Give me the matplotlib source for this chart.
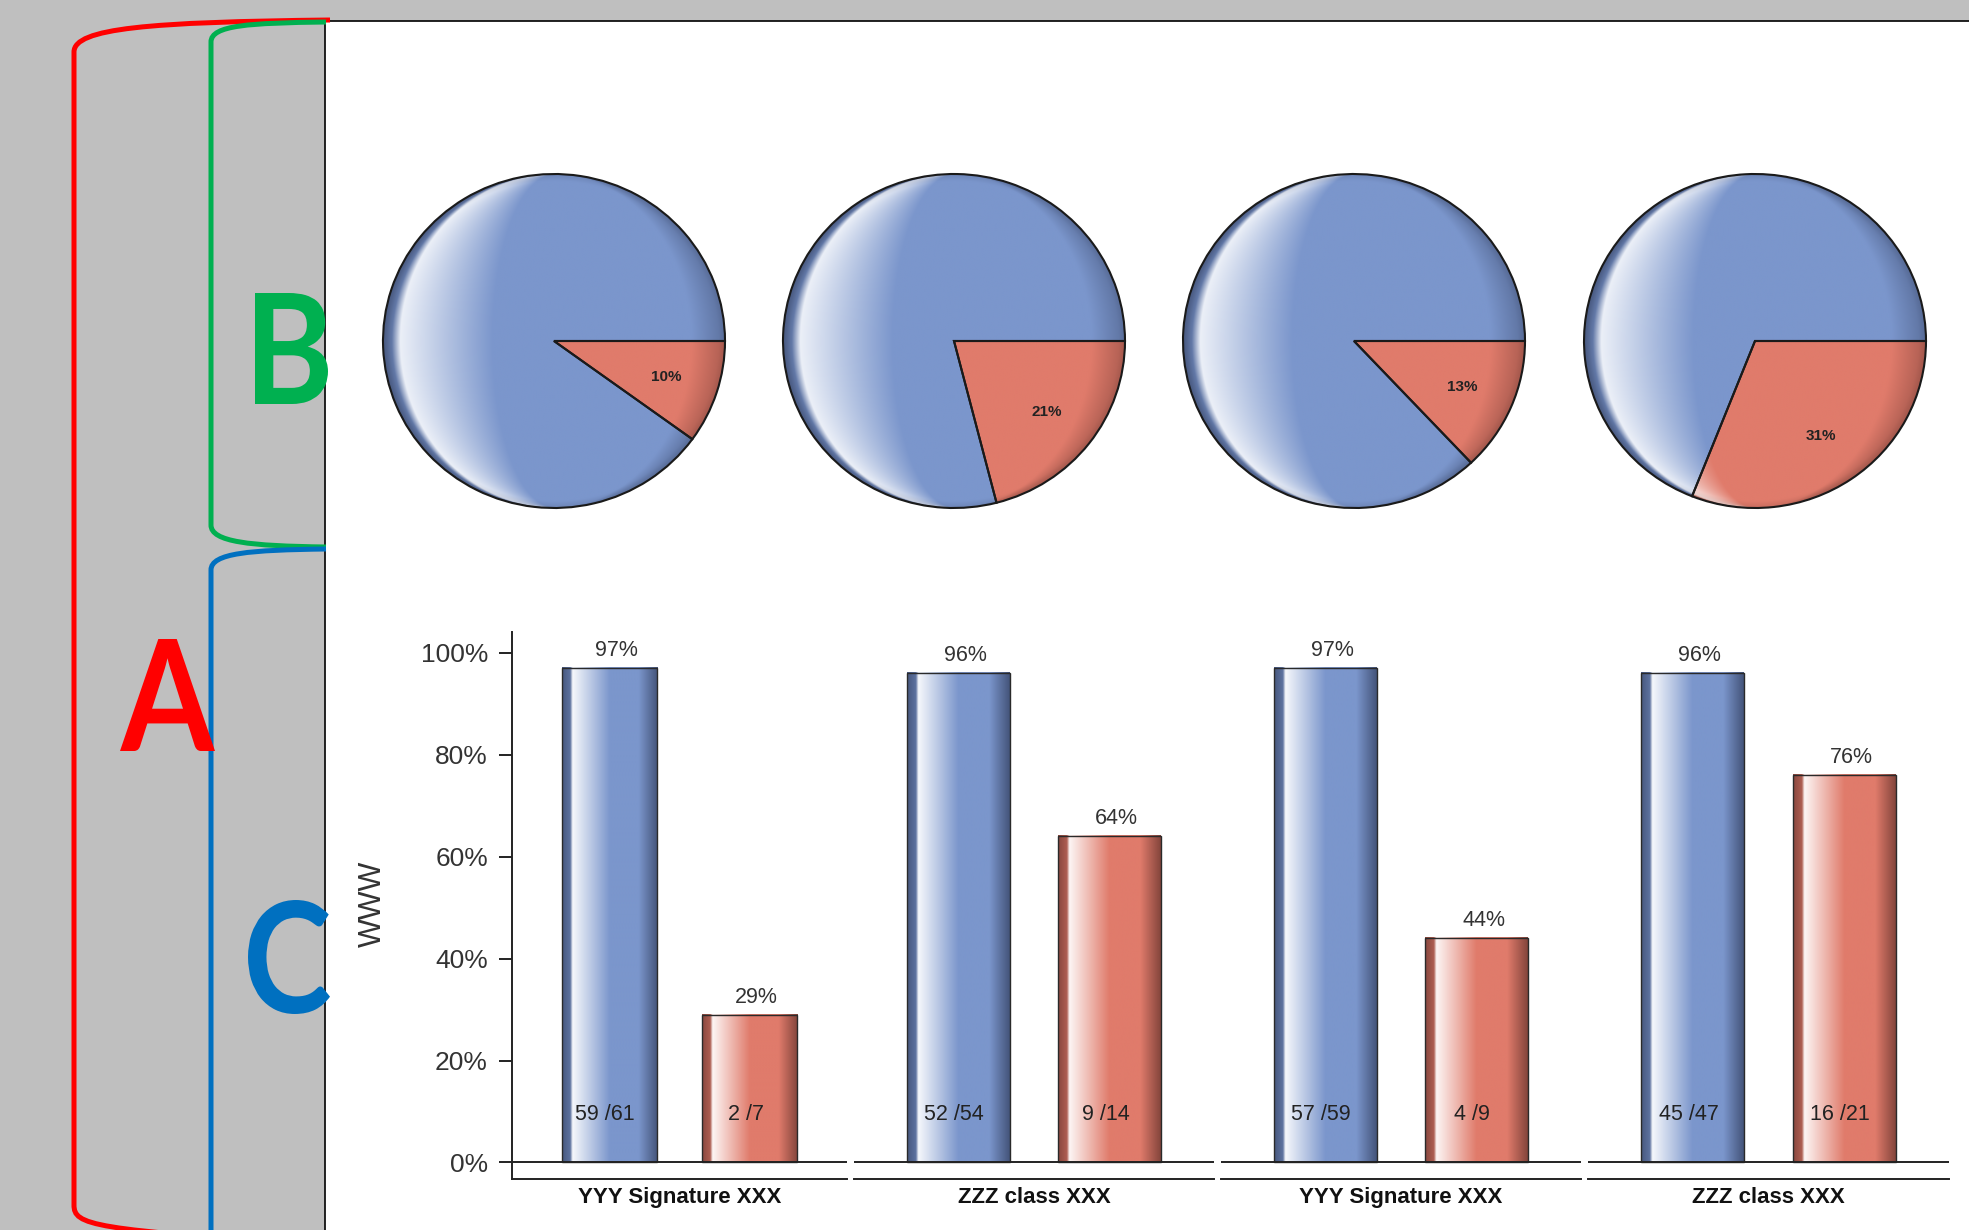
import numpy as np
import matplotlib
matplotlib.use('Agg')
import matplotlib.pyplot as plt
from matplotlib.path import Path
from matplotlib.patches import PathPatch, Rectangle
from matplotlib.colors import to_rgb
from matplotlib.textpath import TextPath
from matplotlib.font_manager import FontProperties
from matplotlib.transforms import Affine2D

plt.rcParams['font.family'] = ['Liberation Sans', 'DejaVu Sans']

W, H = 1969, 1230   # canvas in pixels (dpi 100)

# data
groups = ['YYY Signature XXX', 'ZZZ class XXX', 'YYY Signature XXX', 'ZZZ class XXX']
blue_pct = [97, 96, 97, 96]
red_pct = [29, 64, 44, 76]
blue_counts = ['59 /61', '52 /54', '57 /59', '45 /47']
red_counts = ['2 /7', '9 /14', '4 /9', '16 /21']
pie_pct = [10, 21, 13, 31]
y_ticks = [0, 20, 40, 60, 80, 100]
y_title = 'WWW'

BLUE, BLUE_DARK = '#7b96cc', '#44547a'
RED, RED_DARK = '#e07b6b', '#84453c'


def fig_rect(x0, y0, x1, y1):
    # pixel box (top-left origin) -> figure fraction rect
    return [x0 / W, 1 - y1 / H, (x1 - x0) / W, (y1 - y0) / H]


def mix(c1, c2, t):
    return (1 - t) * np.array(to_rgb(c1)) + t * np.array(to_rgb(c2))


def ramp(u, stops):
    pos = [p for p, _ in stops]
    cols = np.array([c for _, c in stops])
    return np.stack([np.interp(u, pos, cols[:, k]) for k in range(3)], axis=-1)


def bar_stops(base, dark):
    return [(0.0, mix(base, dark, 0.95)),
            (0.085, mix(base, dark, 0.55)),
            (0.11, mix(base, 'white', 0.93)),
            (0.50, mix(base, base, 0)),
            (0.80, mix(base, base, 0)),
            (1.0, mix(base, dark, 1.0))]


def pie_stops(base, dark):
    return [(0.0, mix(base, dark, 0.9)),
            (0.025, mix(base, dark, 0.45)),
            (0.05, mix(base, 'white', 0.85)),
            (0.32, mix(base, base, 0)),
            (0.90, mix(base, base, 0)),
            (1.0, mix(base, dark, 0.55))]


def pie_image(base, dark, n=500):
    xs = np.linspace(-1, 1, n)
    X, Y = np.meshgrid(xs, xs)
    half = np.sqrt(np.clip(1 - Y ** 2, 1e-6, None))
    U = np.clip((X + half) / (2 * half), 0, 1)
    img = ramp(U, pie_stops(base, dark))
    rim = (np.clip((np.hypot(X, Y) - 0.96) / 0.04, 0, 1) * 0.25)[..., None]
    return img * (1 - rim) + np.array(to_rgb(dark)) * rim


def big_letter(ax, s, box, color):
    # glyph outline stretched to fill box = (x0, y0, x1, y1) in pixels
    tp = TextPath((0, 0), s, size=100, prop=FontProperties(family='Lato', weight='bold'))
    bb = tp.get_extents()
    x0, y0, x1, y1 = box
    tr = (Affine2D().translate(-bb.x0, -bb.y0)
          .scale((x1 - x0) / bb.width, -(y1 - y0) / bb.height)
          .translate(x0, y1))
    ax.add_patch(PathPatch(tr.transform_path(tp), facecolor=color,
                           edgecolor='none', zorder=4))


fig = plt.figure(figsize=(W / 100, H / 100), dpi=100)

# ---- background: grey window, white chart area, brackets A/B/C
bg = fig.add_axes([0, 0, 1, 1], zorder=0)
bg.set_xlim(0, W)
bg.set_ylim(H, 0)
bg.axis('off')
bg.add_patch(Rectangle((0, 0), W, H, facecolor='#bfbfbf', edgecolor='none'))
bg.add_patch(Rectangle((325, 21), W - 325, H - 21, facecolor='white', edgecolor='none'))
bg.plot([325, 325, W], [H, 21, 21], color='#111111', lw=1.3)

M, C, L = Path.MOVETO, Path.CURVE4, Path.LINETO
brackets = [
    ('#ff0000', [(330, 20), (150, 22), (74, 28), (74, 52), (74, 1205),
                 (74, 1225), (90, 1230), (330, 1245)],
     [M, C, C, C, L, C, C, C]),
    ('#00b050', [(326, 22), (250, 23), (211, 25), (211, 42), (211, 525),
                 (211, 542), (250, 546), (326, 547)],
     [M, C, C, C, L, C, C, C]),
    ('#0070c0', [(326, 549), (250, 550), (211, 553), (211, 570), (211, 1245)],
     [M, C, C, C, L]),
]
for col, verts, codes in brackets:
    bg.add_patch(PathPatch(Path(verts, codes), facecolor='none', edgecolor=col,
                           lw=3.6, capstyle='butt', zorder=3))

big_letter(bg, 'A', (120, 639, 215, 751), '#ff0000')
big_letter(bg, 'B', (255, 293, 328, 404), '#00b050')
big_letter(bg, 'C', (248, 900, 330, 1014), '#0070c0')

# ---- pie row
pie_cx = [554, 954, 1354, 1755]
pie_cy, rx, ry = 341, 171, 167
blue_img = pie_image(BLUE, BLUE_DARK)
red_img = pie_image(RED, RED_DARK)
for cx, p in zip(pie_cx, pie_pct):
    ax = fig.add_axes(fig_rect(cx - 1.04 * rx, pie_cy - 1.04 * ry,
                               cx + 1.04 * rx, pie_cy + 1.04 * ry), zorder=2)
    ax.patch.set_alpha(0)
    wedges, _ = ax.pie([p, 100 - p], startangle=0, counterclock=False,
                       colors=['none', 'none'],
                       wedgeprops=dict(edgecolor='#1a1a1a', linewidth=1.5, zorder=3))
    for wdg, img in zip(wedges, [red_img, blue_img]):
        im = ax.imshow(img, extent=(-1, 1, -1, 1), origin='lower',
                       interpolation='bilinear', zorder=2)
        im.set_clip_path(wdg)
    mid = np.deg2rad((wedges[0].theta1 + wedges[0].theta2) / 2)
    ax.text(0.69 * np.cos(mid), 0.69 * np.sin(mid), f'{p}%', ha='center',
            va='center', fontsize=11, fontweight='bold', color='#222222', zorder=4)
    ax.set_xlim(-1.04, 1.04)
    ax.set_ylim(-1.04, 1.04)
    ax.set_aspect('auto')
    ax.axis('off')

# ---- bar panels
panel_px = [(512, 847), (854, 1214), (1221, 1581), (1588, 1949)]
top_px, bot_px = 632, 1179
ylo, yhi = -3.24, 104.12
bar_pos, bar_w = [0.29, 0.71], 0.284
grads = [ramp(np.linspace(0, 1, 256), bar_stops(BLUE, BLUE_DARK))[None, :, :],
         ramp(np.linspace(0, 1, 256), bar_stops(RED, RED_DARK))[None, :, :]]

for i, (x0, x1) in enumerate(panel_px):
    ax = fig.add_axes(fig_rect(x0, top_px, x1, bot_px), zorder=2)
    ax.patch.set_alpha(0)
    vals = [blue_pct[i], red_pct[i]]
    bars = ax.bar(bar_pos, vals, width=bar_w, facecolor='none',
                  edgecolor='#2a2a2a', linewidth=1.0, zorder=3)
    for rect, g in zip(bars, grads):
        bx, bw, bh = rect.get_x(), rect.get_width(), rect.get_height()
        ax.imshow(g, extent=(bx, bx + bw, 0, bh), aspect='auto',
                  interpolation='bilinear', zorder=2)
    for xp, v, cnt in zip(bar_pos, vals, [blue_counts[i], red_counts[i]]):
        ax.annotate(f'{v}%', (xp, v), xytext=(5, 8.6), textcoords='offset points',
                    ha='center', va='baseline', fontsize=15.5, color='#333333')
        ax.annotate(cnt, (xp, 10), xytext=(-3, 0), textcoords='offset points',
                    ha='center', va='center_baseline', fontsize=15.5, color='#222222')
    ax.axhline(0, color='#222222', lw=1.4, zorder=4)
    ax.set_xlim(0, 1)
    ax.set_ylim(ylo, yhi)
    for s in ['top', 'right']:
        ax.spines[s].set_visible(False)
    ax.spines['bottom'].set_linewidth(1.4)
    ax.spines['bottom'].set_color('#222222')
    ax.set_xticks([0.5])
    ax.set_xticklabels([groups[i]], fontweight='bold', fontsize=16, color='#111111')
    ax.tick_params(axis='x', length=0, pad=6)
    if i == 0:
        ax.spines['left'].set_linewidth(1.4)
        ax.spines['left'].set_color('#222222')
        ax.set_yticks(y_ticks)
        ax.set_yticklabels([f'{t}%' for t in y_ticks])
        ax.tick_params(axis='y', length=9.4, width=1.4, pad=7.9, labelsize=19,
                       labelcolor='#333333', color='#222222')
    else:
        ax.spines['left'].set_visible(False)
        ax.set_yticks([])

fig.text(373 / W, 1 - 904 / H, y_title, rotation=90, ha='center', va='center',
         fontsize=22, color='#333333')

fig.savefig('out.png', dpi=100)
